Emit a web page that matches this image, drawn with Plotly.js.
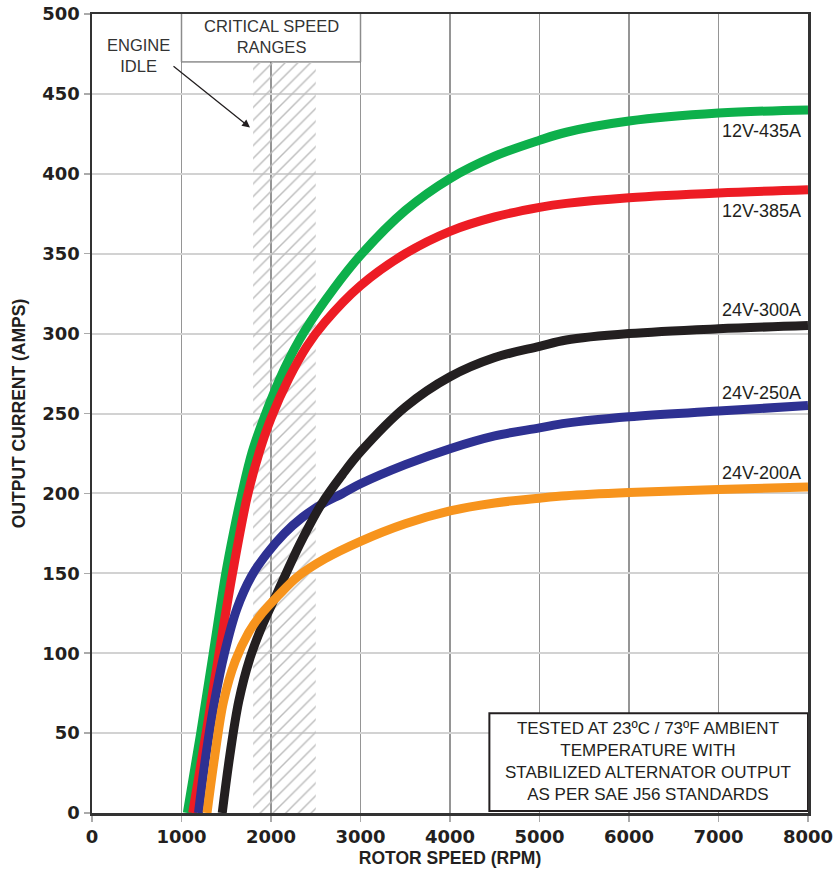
<!DOCTYPE html>
<html><head><meta charset="utf-8">
<script src="https://cdn.plot.ly/plotly-3.0.1.min.js"></script>
<style>html,body{margin:0;padding:0;background:#fff;}#chart{width:837px;height:875px;}</style>
</head><body><div id="chart"></div>
<script>
// ---- data ----
const seriesNames = ['12V-435A', '12V-385A', '24V-250A', '24V-300A', '24V-200A'];

const rpm12v435  = [1065, 1215, 1355, 1495, 1580, 1675, 1790, 1920, 2150, 2380, 2700, 3000, 3500, 4000, 4500, 5000, 5300, 6000, 7000, 8000];
const amps12v435 = [0,    50,   100,  150,  175,  200,  226,  247,  278,  302,  328,  349,  377,  397,  411,  421,  426,  433,  438,  440];

const rpm12v385  = [1125, 1275, 1420, 1570, 1735, 1870, 2000, 2200, 2400, 2600, 3000, 3500, 4000, 4500, 5000, 5300, 6000, 7000, 8000];
const amps12v385 = [0,    50,   100,  150,  198,  226,  247,  272,  292,  307,  330,  350,  364,  373,  379,  381.5, 385, 388, 390];

const rpm24v250  = [1190, 1270, 1370, 1480, 1620, 1780, 1950, 2150, 2350, 2560, 2800, 3000, 3500, 4000, 4500, 5000, 5300, 6000, 7000, 8000];
const amps24v250 = [0,    35,   70,   100,  128,  148,  162,  175,  185,  193,  200,  206,  218,  228,  236,  241,  244,  248,  251.5, 255];

const rpm24v300  = [1455, 1540, 1640, 1760, 1900, 2080, 2320, 2560, 2800, 3000, 3500, 4000, 4500, 5000, 5300, 6000, 7000, 8000];
const amps24v300 = [0,    36,   70,   96,   117,  139,  168,  193,  212,  226,  254,  273,  285,  292,  296,  300,  303,  305];

const rpm24v200  = [1285, 1370, 1470, 1600, 1750, 1900, 2080, 2300, 2600, 3000, 3500, 4000, 4500, 5000, 5300, 6000, 7000, 8000];
const amps24v200 = [0,    35,   70,   95,   113,  125,  136,  148,  159,  170,  181,  189,  194,  197,  198.5, 200.5, 202.5, 204];

const criticalRange = [1800, 2500];
const criticalTop = 470;
const xTickVals = [0, 1000, 2000, 3000, 4000, 5000, 6000, 7000, 8000];
const yTickVals = [0, 50, 100, 150, 200, 250, 300, 350, 400, 450, 500];
const headerText = 'CRITICAL SPEED<br>RANGES';
const idleText = 'ENGINE<br>IDLE';
const noteText = 'TESTED AT 23ºC / 73ºF AMBIENT<br>TEMPERATURE WITH<br>STABILIZED ALTERNATOR OUTPUT<br>AS PER SAE J56 STANDARDS';
const xTitle = 'ROTOR SPEED (RPM)';
const yTitle = 'OUTPUT CURRENT (AMPS)';

// ---- styles ----
const xs = [rpm12v435, rpm12v385, rpm24v250, rpm24v300, rpm24v200];
const ys = [amps12v435, amps12v385, amps24v250, amps24v300, amps24v200];
const colors = ['#0db04b', '#ed1c24', '#2e3192', '#231f20', '#f7941d'];
const labelOffsets = [-13, -13, 8, 10, 8.5];

const traces = [];
// critical speed hatch band
traces.push({
  x: [criticalRange[0], criticalRange[1], criticalRange[1], criticalRange[0], criticalRange[0]],
  y: [0, 0, criticalTop, criticalTop, 0],
  mode: 'lines', fill: 'toself', line: {width: 0, color: 'rgba(0,0,0,0)'},
  fillcolor: 'rgba(0,0,0,0)',
  fillpattern: {shape: '/', fgcolor: '#bdbdbd', bgcolor: 'rgba(0,0,0,0)', size: 9, solidity: 0.16, fillmode: 'replace'},
  hoverinfo: 'skip', showlegend: false
});
for (let i = 0; i < xs.length; i++) {
  traces.push({
    x: xs[i], y: ys[i], name: seriesNames[i], mode: 'lines',
    line: {color: colors[i], width: 9, shape: 'spline', smoothing: 1},
    showlegend: false, cliponaxis: true
  });
}

const annotations = [];
for (let i = 0; i < xs.length; i++) {
  const last = ys[i][ys[i].length - 1];
  annotations.push({
    x: 7944, y: last + labelOffsets[i], xref: 'x', yref: 'y',
    text: seriesNames[i], showarrow: false, xanchor: 'right', yanchor: 'middle',
    font: {family: 'Liberation Sans, Arial, sans-serif', size: 18, color: '#231f20'}
  });
}
annotations.push({
  x: 2000, y: 486, xref: 'x', yref: 'y', text: headerText, showarrow: false,
  xanchor: 'center', yanchor: 'middle',
  font: {family: 'Liberation Sans, Arial, sans-serif', size: 16.5, color: '#333'}
});
annotations.push({
  x: 520, y: 474, xref: 'x', yref: 'y', text: idleText, showarrow: false,
  xanchor: 'center', yanchor: 'middle',
  font: {family: 'Liberation Sans, Arial, sans-serif', size: 16.5, color: '#333'}
});
annotations.push({
  x: 1765, y: 429, xref: 'x', yref: 'y', ax: 894, ay: 468, axref: 'x', ayref: 'y',
  text: '', showarrow: true, arrowhead: 2, arrowsize: 1.2, arrowwidth: 1.3, arrowcolor: '#231f20'
});
annotations.push({
  x: 6212, y: 32, xref: 'x', yref: 'y', text: noteText, showarrow: false,
  xanchor: 'center', yanchor: 'middle',
  font: {family: 'Liberation Sans, Arial, sans-serif', size: 17, color: '#231f20'}
});

const shapes = [
  {type: 'rect', xref: 'x', yref: 'y', x0: 1000, x1: 3000, y0: criticalTop, y1: 500,
   fillcolor: '#ffffff', line: {width: 0}, layer: 'between'},
  {type: 'line', xref: 'x', yref: 'y', x0: 1000, x1: 3000, y0: criticalTop, y1: criticalTop,
   line: {color: '#555', width: 1}, layer: 'between'},
  {type: 'line', xref: 'x', yref: 'y', x0: 1000, x1: 1000, y0: criticalTop, y1: 500,
   line: {color: '#8c8c8c', width: 1.5}, layer: 'between'},
  {type: 'line', xref: 'x', yref: 'y', x0: 3000, x1: 3000, y0: criticalTop, y1: 500,
   line: {color: '#8c8c8c', width: 1.5}, layer: 'between'},
  {type: 'rect', xref: 'x', yref: 'y', x0: 4440, x1: 8000, y0: 1.2, y1: 62.5,
   fillcolor: '#ffffff', line: {color: '#231f20', width: 2}, layer: 'above'}
];

const tickFont = {family: 'DejaVu Sans, Verdana, sans-serif', size: 18, color: '#231f20', weight: 'bold'};

const layout = {
  width: 837, height: 875,
  margin: {l: 92, r: 29, t: 14, b: 62},
  paper_bgcolor: '#fff', plot_bgcolor: '#fff',
  showlegend: false,
  xaxis: {
    range: [0, 8000], tickvals: xTickVals, ticktext: xTickVals.map(String),
    showgrid: true, gridcolor: '#959595', gridwidth: 1.5,
    showline: true, linecolor: '#333', linewidth: 2.5, mirror: true,
    ticks: 'outside', ticklen: 6, tickwidth: 1.5, tickcolor: '#aaa',
    tickfont: tickFont, zeroline: false,
    title: {text: xTitle, standoff: 6,
      font: {family: 'Liberation Sans, Arial, sans-serif', size: 17.5, color: '#231f20', weight: 'bold'}}
  },
  yaxis: {
    range: [0, 500], tickvals: yTickVals, ticktext: yTickVals.map(String),
    showgrid: true, gridcolor: '#d2d2d2', gridwidth: 2,
    showline: true, linecolor: '#333', linewidth: 2.5, mirror: true,
    ticks: 'outside', ticklen: 6, tickwidth: 1.5, tickcolor: '#aaa',
    tickfont: tickFont, zeroline: false,
    title: {text: yTitle, standoff: 12,
      font: {family: 'Liberation Sans, Arial, sans-serif', size: 17.5, color: '#231f20', weight: 'bold'}}
  },
  annotations: annotations,
  shapes: shapes
};

Plotly.newPlot('chart', traces, layout, {staticPlot: true, displayModeBar: false});
</script>
</body></html>
